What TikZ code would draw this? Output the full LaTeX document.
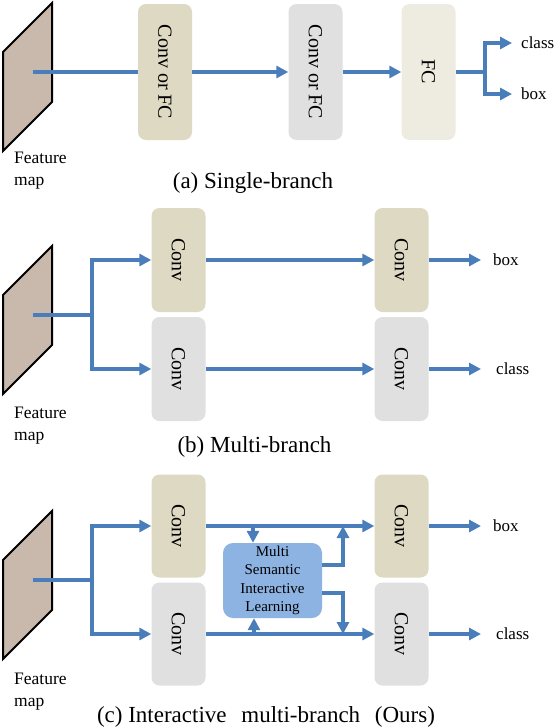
\documentclass[tikz,border=0pt]{standalone}
\usepackage{fontspec}
\setmainfont{Liberation Serif}
\usetikzlibrary{arrows.meta}

\definecolor{linkblue}{HTML}{4A7EBB}
\definecolor{convtan}{HTML}{DDD9C3}
\definecolor{convgray}{HTML}{E0E0E0}
\definecolor{fccream}{HTML}{EEECE1}
\definecolor{msilblue}{HTML}{8DB3E2}
\definecolor{fmapbrown}{HTML}{C9B9AC}

\tikzset{
  blk/.style={rounded corners=8pt,inner sep=0pt,minimum width=54pt,font=\fontsize{20}{24}\selectfont},
  flow/.style={draw=linkblue,line width=4pt,-{Triangle[length=12pt,width=12pt]}},
  link/.style={draw=linkblue,line width=4pt},
  fmap/.style={draw=black,line width=2pt,fill=fmapbrown},
  fmaplbl/.style={anchor=north west,align=left,inner sep=0pt,font=\fontsize{17.5}{22}\selectfont},
  outlbl/.style={anchor=west,inner sep=0pt,font=\fontsize{17}{20}\selectfont},
  subcap/.style={inner sep=0pt,font=\fontsize{23}{27}\selectfont},
}

\begin{document}
\begin{tikzpicture}[x=1pt,y=-1pt]
  \useasboundingbox (0,0) rectangle (554,728);
  \foreach \p/\y/\ly in {a/52/152,b/295/407,c/560/673} {
    \draw[fmap] (3,\y) -- ++(49,-49) -- ++(0,99) -- ++(-49,49) -- cycle;
    \coordinate (f\p) at (33,\y+20);
    \node[fmaplbl] (fl\p) at (14,\ly) {Feature\\map};
  }

  % (a)
  \node[blk,fill=convtan,minimum height=136pt] (a1) at (165,72) {\rotatebox{-90}{Conv or FC}};
  \node[blk,fill=convgray,minimum height=136pt] (a2) at (315.5,72) {\rotatebox{-90}{Conv or FC}};
  \node[blk,fill=fccream,minimum height=136pt] (a3) at (428.5,72) {\rotatebox{-90}{FC}};
  \coordinate (asp) at (485,72);
  \node[outlbl] (acls) at (521,43) {class};
  \node[outlbl] (abox) at (521,94) {box};
  \draw[link] (fa) -- (a1);
  \draw[flow] (a1) -- (a2);
  \draw[flow] (a2) -- (a3);
  \draw[link] (a3) -- (asp);
  \draw[flow,shorten >=9pt] (asp) |- (acls.west);
  \draw[flow,shorten >=9pt] (asp) |- (abox.west);
  \node[subcap] (capa) at (253,183) {(a) Single-branch};

  % (b)
  \node[blk,fill=convtan,minimum height=104pt] (b1) at (178.5,260) {\rotatebox{-90}{Conv}};
  \node[blk,fill=convgray,minimum height=104pt] (b2) at (178.5,369) {\rotatebox{-90}{Conv}};
  \node[blk,fill=convtan,minimum height=104pt] (b3) at (401.5,260) {\rotatebox{-90}{Conv}};
  \node[blk,fill=convgray,minimum height=104pt] (b4) at (401.5,369) {\rotatebox{-90}{Conv}};
  \coordinate (bsp) at (92,315);
  \node[outlbl] (bbox) at (493,260) {box};
  \node[outlbl] (bcls) at (496,369) {class};
  \draw[link] (fb) -- (bsp);
  \draw[flow] (bsp) |- (b1);
  \draw[flow] (bsp) |- (b2);
  \draw[flow] (b1) -- (b3);
  \draw[flow] (b2) -- (b4);
  \draw[flow,shorten >=12pt] (b3) -- (bbox.west);
  \draw[flow,shorten >=15pt] (b4) -- (bcls.west);
  \node[subcap] (capb) at (254.5,447) {(b) Multi-branch};

  % (c)
  \node[blk,fill=convtan,minimum height=103pt] (c1) at (178.5,526) {\rotatebox{-90}{Conv}};
  \node[blk,fill=convgray,minimum height=103pt] (c2) at (178.5,634) {\rotatebox{-90}{Conv}};
  \node[blk,fill=convtan,minimum height=103pt] (c3) at (401.5,526) {\rotatebox{-90}{Conv}};
  \node[blk,fill=convgray,minimum height=103pt] (c4) at (401.5,634) {\rotatebox{-90}{Conv}};
  \node[rounded corners=10pt,fill=msilblue,minimum width=99pt,minimum height=75pt,inner sep=0pt,
    align=center,font=\fontsize{15}{18.5}\selectfont] (msil) at (272.5,580.5)
    {Multi\\Semantic\\Interactive\\Learning};
  \coordinate (csp) at (92,580);
  \coordinate (cdn) at (253,526);
  \coordinate (cup) at (254,634);
  \coordinate (cjt) at (343,526);
  \coordinate (cjb) at (343,634);
  \node[outlbl] (cbox) at (493,526) {box};
  \node[outlbl] (ccls) at (496,634) {class};
  \draw[link] (fc) -- (csp);
  \draw[flow] (csp) |- (c1);
  \draw[flow] (csp) |- (c2);
  \draw[flow] (c1) -- (c3);
  \draw[flow] (c2) -- (c4);
  \draw[flow] (cdn) -- (cdn |- msil.north);
  \draw[flow] (cup) -- (cup |- msil.south);
  \draw[flow] ([yshift=15.5pt]msil.east) -| (cjt);
  \draw[flow] ([yshift=-12.5pt]msil.east) -| (cjb);
  \draw[flow,shorten >=12pt] (c3) -- (cbox.west);
  \draw[flow,shorten >=15pt] (c4) -- (ccls.west);
  \node[subcap] (capc) at (266,717) {(c) Interactive\hspace{9pt} multi-branch\hspace{9pt} (Ours)};
\end{tikzpicture}
\end{document}
